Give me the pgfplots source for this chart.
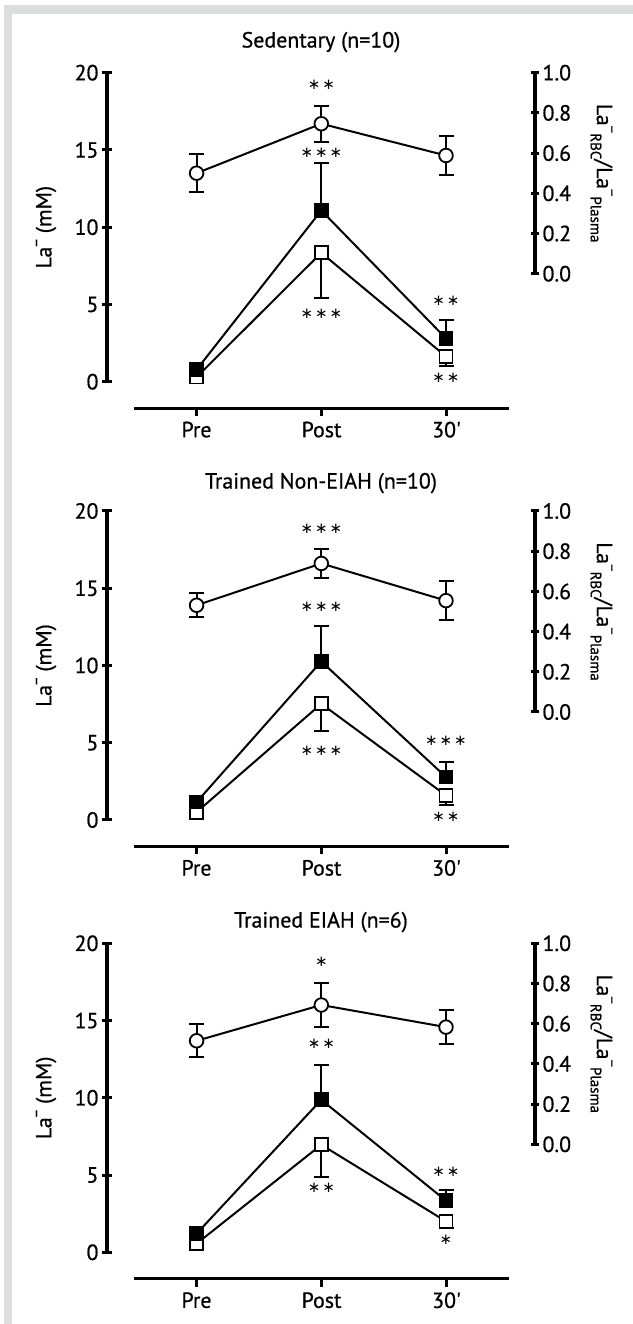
\documentclass[border=0pt]{standalone}
\usepackage{fontspec}
\setmainfont{PT Sans}[FakeBold=0.7]
\newfontfamily\djv{DejaVu Sans}
\usepackage{pgfplots}
\pgfplotsset{compat=1.18}
\definecolor{framegray}{RGB}{220,221,222}
\newcommand\bigf{\fontsize{22}{24}\selectfont}
\newcommand\smf{\fontsize{15}{15}\selectfont}
\newcommand\sUp[1]{\raisebox{0.45em}{\smf #1}}
\newcommand\sDn[1]{\raisebox{-0.28em}{\smf #1}}
\newcommand\oneast{\makebox[14.5bp]{\djv\fontsize{15}{15}\selectfont ∗}}
\newcommand\sOne{\oneast}
\newcommand\sTwo{\oneast\oneast}
\newcommand\sThree{\oneast\oneast\oneast}
\pgfplotsset{
  base/.style={scale only axis, clip=false, width=428bp,
    xmin=-0.7185, xmax=2.7137, xtick=\empty, axis x line=none,
    /pgf/number format/assume math mode=true,
    tick label style={font=\bigf, black},
    label style={font=\bigf},
    tick align=outside,
    major tick style={line width=3bp, black},
    title style={font=\bigf, anchor=center}},
  leftax/.style={base, height=309bp, ymin=0, ymax=20, ytick={0,5,10,15,20},
    axis y line=left, y axis line style={-, line width=3.2bp},
    major tick length=10bp,
    ylabel={La\sUp{−} (mM)},
    ylabel style={at={(axis description cs:-0.1425,0.5)}, anchor=center, font=\bigf}},
  rightax/.style={base, height=201bp, ymin=0, ymax=1, ytick={0,0.2,0.4,0.6,0.8,1},
    yticklabel style={/pgf/number format/.cd, fixed, fixed zerofill, precision=1},
    axis y line=right, y axis line style={-, line width=3.6bp},
    major tick length=8bp,
    ylabel={La\sUp{−}\sDn{RBC}/La\sUp{−}\sDn{Plasma}},
    ylabel style={at={(axis description cs:1.1554,0.5)}, anchor=center, rotate=180, font=\bigf}},
  xax/.style={scale only axis, clip=false, width=375bp, height=20bp,
    xmin=-0.5, xmax=2.5, ymin=0, ymax=1,
    axis x line=bottom, x axis line style={-, line width=3.3bp},
    hide y axis, xtick={0,1,2}, xticklabels={Pre,Post,30\textquotesingle},
    tick align=outside, major tick length=8bp,
    major tick style={line width=2.6bp, black},
    tick label style={font=\bigf, black, yshift=-2bp}},
  sqopen/.style={black, line width=2bp, mark=square*, mark size=6.5bp,
    mark options={fill=white, line width=1.8bp, solid},
    error bars/y dir=minus, error bars/y explicit,
    error bars/error bar style={line width=2bp, black},
    error bars/error mark options={rotate=90, line width=2bp, mark size=7.5bp}},
  sqfill/.style={black, line width=2bp, mark=square*, mark size=6.5bp,
    mark options={fill=black, line width=1.8bp, solid},
    error bars/y dir=plus, error bars/y explicit,
    error bars/error bar style={line width=2bp, black},
    error bars/error mark options={rotate=90, line width=2bp, mark size=7.5bp}},
  circ/.style={black, line width=2bp, mark=*, mark size=6.8bp,
    mark options={fill=white, line width=1.8bp, solid},
    error bars/y dir=both, error bars/y explicit,
    error bars/error bar style={line width=2bp, black},
    error bars/error mark options={rotate=90, line width=2bp, mark size=7.5bp}},
}
\begin{document}
\begin{tikzpicture}
\path[use as bounding box] (0bp,0bp) rectangle (633bp,1324bp);
\fill[framegray] (4bp,0bp) rectangle (12bp,1319bp);
\fill[framegray] (4bp,1319bp) rectangle (633bp,1310bp);

% ---------------- Panel 1 ----------------
\begin{axis}[leftax, at={(107bp,942.3bp)}, anchor=south west,
  title={Sedentary (n=10)}, title style={at={(0.5,1)}, yshift=24.6bp}]
\addplot+[sqopen] coordinates {(0,0.3) +- (0,0) (1,8.34) +- (0,2.94) (2,1.63) +- (0,0.63)};
\addplot+[sqfill] coordinates {(0,0.78) +- (0,0) (1,11.08) +- (0,3.06) (2,2.8) +- (0,1.2)};
\node at (axis cs:1,14.83) {\sThree};
\node at (axis cs:1,4.39) {\sThree};
\node at (axis cs:2,5.21) {\sTwo};
\node at (axis cs:2,0.28) {\sTwo};
\end{axis}
\begin{axis}[rightax, at={(107bp,1050.3bp)}, anchor=south west]
\addplot+[circ] coordinates {(0,0.50) +- (0,0.095) (1,0.746) +- (0,0.089) (2,0.588) +- (0,0.099)};
\node at (axis cs:1,0.939) {\sTwo};
\end{axis}
\begin{axis}[xax, at={(134bp,915.8bp)}, anchor=south west]
\end{axis}

% ---------------- Panel 2 ----------------
\begin{axis}[leftax, at={(107bp,504bp)}, anchor=south west,
  title={Trained Non-EIAH (n=10)}, title style={at={(0.5,1)}, yshift=21.9bp}]
\addplot+[sqopen] coordinates {(0,0.51) +- (0,0) (1,7.52) +- (0,1.74) (2,1.59) +- (0,0.64)};
\addplot+[sqfill] coordinates {(0,1.16) +- (0,0) (1,10.26) +- (0,2.32) (2,2.78) +- (0,0.95)};
\node at (axis cs:1,13.81) {\sThree};
\node at (axis cs:1,4.48) {\sThree};
\node at (axis cs:2,5.13) {\sThree};
\node at (axis cs:2,0.22) {\sTwo};
\end{axis}
\begin{axis}[rightax, at={(107bp,612bp)}, anchor=south west]
\addplot+[circ] coordinates {(0,0.531) +- (0,0.06) (1,0.739) +- (0,0.07) (2,0.554) +- (0,0.097)};
\node at (axis cs:1,0.909) {\sThree};
\end{axis}
\begin{axis}[xax, at={(134bp,477.5bp)}, anchor=south west]
\end{axis}

% ---------------- Panel 3 ----------------
\begin{axis}[leftax, at={(107bp,71.7bp)}, anchor=south west,
  title={Trained EIAH (n=6)}, title style={at={(0.5,1)}, yshift=15.2bp}]
\addplot+[sqopen] coordinates {(0,0.56) +- (0,0) (1,6.96) +- (0,2.11) (2,2.0) +- (0,0.43)};
\addplot+[sqfill] coordinates {(0,1.21) +- (0,0) (1,9.87) +- (0,2.26) (2,3.34) +- (0,0.71)};
\node at (axis cs:1,13.49) {\sTwo};
\node at (axis cs:1,4.16) {\sTwo};
\node at (axis cs:2,5.19) {\sTwo};
\node at (axis cs:2,0.78) {\sOne};
\end{axis}
\begin{axis}[rightax, at={(107bp,179.7bp)}, anchor=south west]
\addplot+[circ] coordinates {(0,0.515) +- (0,0.083) (1,0.693) +- (0,0.107) (2,0.583) +- (0,0.086)};
\node at (axis cs:1,0.908) {\sOne};
\end{axis}
\begin{axis}[xax, at={(134bp,45.2bp)}, anchor=south west]
\end{axis}
\end{tikzpicture}
\end{document}
